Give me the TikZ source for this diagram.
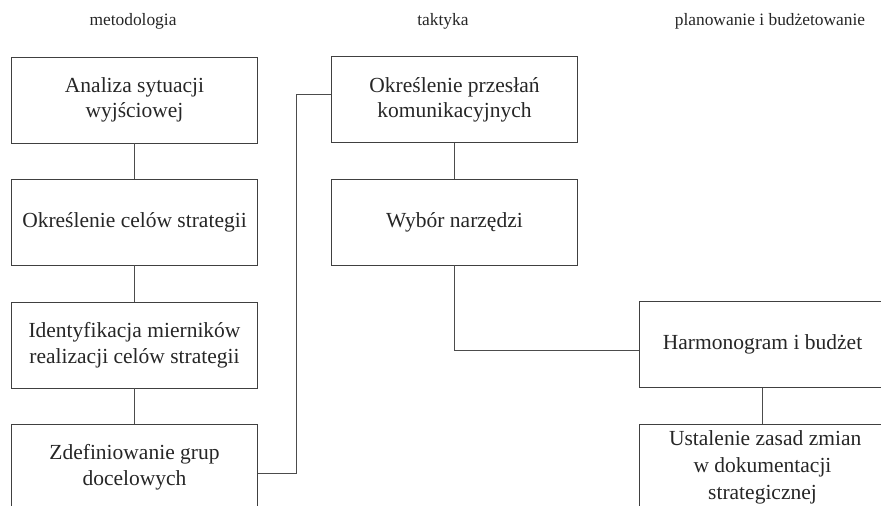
\documentclass[tikz,border=0pt]{standalone}
\usepackage{fontspec}
\setmainfont{Liberation Serif}
\begin{document}
\begin{tikzpicture}[x=1pt,y=-1pt,
  box/.style={draw=black!75, line width=0.9pt, minimum width=246pt, minimum height=86pt,
    align=center, inner sep=0pt, font=\fontsize{21.5}{25.5}\selectfont, text=black!85},
  link/.style={draw=black!70, line width=0.9pt},
  title/.style={font=\fontsize{17.4}{20}\selectfont, text=black!85}]
\useasboundingbox (0,0) rectangle (881,506);
\clip (0,0) rectangle (881,506);
% column titles
\node[title] (t1) at (133,21.5) {metodologia};
\node[title] (t2) at (443,21.5) {taktyka};
\node[title] (t3) at (770,21.5) {planowanie i budżetowanie};
% left column
\node[box] (l1) at (134.5,100) {Analiza sytuacji\\wyjściowej};
\node[box] (l2) at (134.5,222) {Określenie celów strategii};
\node[box] (l3) at (134.5,345) {Identyfikacja mierników\\realizacji celów strategii};
\node[box] (l4) at (134.5,467) {Zdefiniowanie grup\\docelowych};
% middle column
\node[box] (m1) at (454.5,99.7) {Określenie przesłań\\komunikacyjnych};
\node[box] (m2) at (454.5,222) {Wybór narzędzi};
% right column
\node[box] (r1) at (762.5,344.5) {Harmonogram i budżet};
\node[box, font=\fontsize{21.5}{27}\selectfont] (r2) at (762.5,467) {\ Ustalenie zasad zmian\\w dokumentacji\\strategicznej};
% connectors
\draw[link] (l1.south) -- (l2.north);
\draw[link] (l2.south) -- (l3.north);
\draw[link] (l3.south) -- (l4.north);
\draw[link] ([yshift=-6pt]l4.east) -- ++(38,0) coordinate (c1) |- ([yshift=5.4pt]m1.west);
\draw[link] (m1.south) -- (m2.north);
\draw[link] (m2.south) |- ([yshift=-6pt]r1.west);
\draw[link] (r1.south) -- (r2.north);
\end{tikzpicture}
\end{document}
